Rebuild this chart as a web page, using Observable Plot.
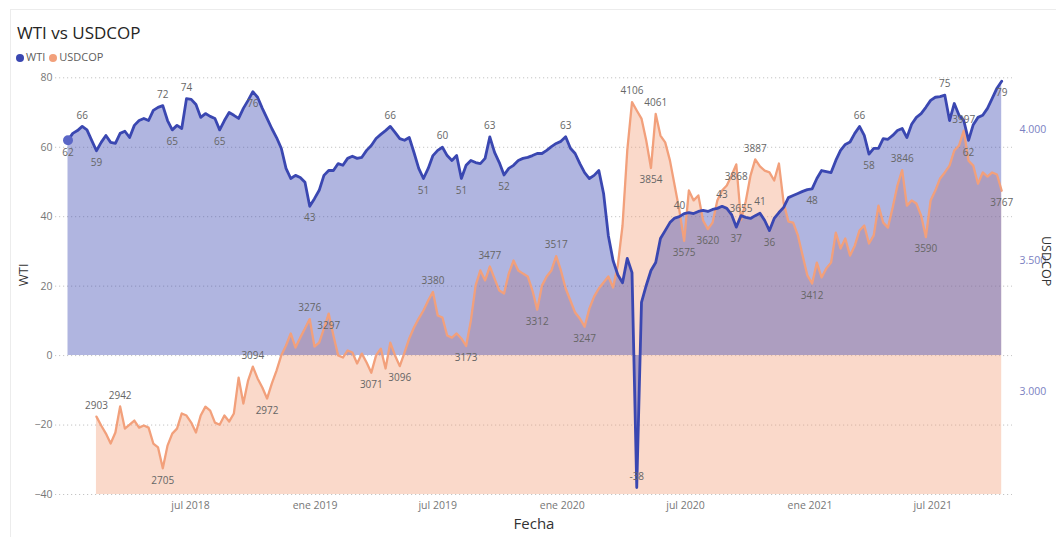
<!DOCTYPE html>
<html>
<head>
<meta charset="utf-8">
<script src="https://cdn.jsdelivr.net/npm/d3@7"></script>
<script src="https://cdn.jsdelivr.net/npm/@observablehq/plot@0.6"></script>
<style>
  body { margin: 0; width: 1056px; height: 537px; overflow: hidden; position: relative; background: #fff; font-family: "Open Sans", sans-serif; }
  .card { position: absolute; left: 10px; top: 9px; width: 1046px; height: 528px; border-top: 1px solid #ececec; border-left: 1px solid #ececec; box-sizing: border-box; pointer-events: none; }
  #title { height: 48px; box-sizing: border-box; padding: 22px 0 0 17px; font-size: 17px; line-height: 22px; color: #252423; }
  #legend { height: 18px; box-sizing: border-box; padding-left: 16px; font-size: 11px; line-height: 18px; color: #605e5c; }
  #legend .sw { display: inline-block; width: 8px; height: 8px; border-radius: 50%; margin-right: 2px; vertical-align: -0.5px; }
  #legend .item { margin-right: 4px; }
</style>
</head>
<body>
<div class="card"></div>
<div id="title">WTI vs USDCOP</div>
<div id="legend"></div>
<div id="chart"></div>
<script>
// Weekly closes, WTI in USD per barrel and USDCOP in pesos per dollar
const wtiStart = "2018-01-01";
const wtiValues = [
  62, 64.0, 64.8, 66, 65, 62, 59, 61.4, 63.4, 61.4,
  61.1, 64, 64.6, 62.8, 66.3, 67.7, 68.3, 67.7, 70.6, 71.5,
  72, 67.7, 65, 66.3, 65.4, 74, 73.8, 72.3, 68.6, 69.7,
  68.9, 68.3, 65, 67.7, 70, 69.2, 68.3, 71.2, 73.5, 76,
  74.4, 71.2, 68.3, 65.4, 62.8, 59.7, 53.9, 51, 51.9, 51.3,
  49.9, 43, 45.2, 47.6, 51.9, 53.3, 53.3, 55.3, 54.8, 56.8,
  57.4, 56.8, 57.1, 59.1, 60.5, 62.5, 63.7, 64.8, 66, 64.3,
  62.5, 62, 62.8, 58.5, 53.9, 51, 53.9, 57.6, 59.1, 60,
  57.6, 56.2, 57.6, 51, 54.8, 56.2, 55.6, 55.3, 56.8, 63,
  58.5, 55.6, 52, 53.9, 54.8, 56.2, 56.8, 57.1, 57.6, 58.2,
  58.2, 59.1, 60.2, 61.1, 61.7, 63, 59.7, 58.2, 55.3, 52.7,
  51, 51.9, 53.3, 46.7, 34.6, 27.4, 23.3, 21.0, 28, 23.9,
  -38, 15.3, 20.2, 24.5, 26.8, 33.7, 36, 38.3, 39.6, 40,
  40.9, 41.2, 40.9, 41.5, 41.8, 41.5, 42.1, 42.4, 43, 42.4,
  40.6, 37, 40.3, 39.8, 39.5, 40.3, 41, 38.9, 36, 39.5,
  41.2, 42.7, 45.5, 46.1, 46.7, 47.3, 47.8, 48, 51, 53.3,
  53, 52.7, 56.2, 59.1, 60.8, 61.5, 64, 66, 63.4, 58,
  59.7, 59.7, 62.5, 62.3, 63.4, 64.8, 65.4, 62.8, 66.6, 68.6,
  69.7, 71.5, 73.5, 74.4, 74.6, 75, 67.7, 72.6, 69.2, 67.7,
  62, 66.5, 68.6, 69.2, 71.2, 74.1, 77, 79
];

const copStart = "2018-02-12";
const copValues = [
  2903, 2869, 2838, 2800, 2842, 2942, 2857, 2872, 2888, 2861,
  2869, 2861, 2800, 2785, 2705, 2792, 2838, 2857, 2915, 2907,
  2880, 2842, 2907, 2941, 2926, 2880, 2872, 2907, 2884, 2915,
  3052, 2953, 3041, 3094, 3049, 3014, 2972, 3029, 3079, 3137,
  3175, 3221, 3167, 3205, 3240, 3276, 3171, 3186, 3240, 3297,
  3213, 3137, 3129, 3156, 3148, 3106, 3144, 3110, 3071, 3137,
  3163, 3087, 3186, 3137, 3096, 3148, 3202, 3244, 3278, 3309,
  3347, 3380, 3290, 3282, 3213, 3205, 3221, 3202, 3173, 3270,
  3404, 3462, 3424, 3477, 3431, 3385, 3374, 3450, 3500, 3462,
  3450, 3439, 3385, 3312, 3404, 3439, 3462, 3517, 3462, 3393,
  3347, 3301, 3278, 3247, 3316, 3362, 3393, 3416, 3439, 3397,
  3481, 3634, 3921, 4106, 4074, 4043, 3959, 3854, 4061, 3978,
  3952, 3883, 3787, 3691, 3575, 3768, 3730, 3749, 3653, 3620,
  3645, 3730, 3768, 3787, 3825, 3868, 3655, 3727, 3825, 3887,
  3860, 3844, 3837, 3806, 3871, 3720, 3649, 3645, 3596, 3519,
  3443, 3412, 3492, 3435, 3470, 3492, 3607, 3546, 3584, 3519,
  3557, 3615, 3634, 3565, 3596, 3710, 3645, 3626, 3703, 3787,
  3846, 3710, 3730, 3718, 3672, 3590, 3730, 3768, 3814, 3837,
  3863, 3921, 3940, 3997, 3882, 3863, 3794, 3837, 3821, 3837,
  3829, 3767
];

// Weeks (counted from each series' start) that carry a value label, and where it sits
const wtiLabelWeeks = [0, 3, 6, 20, 22, 25, 32, 39, 51, 68, 75, 79, 83, 89, 92, 105, 120, 129, 138, 141, 146, 148, 157, 167, 169, 185, 190, 197];
const wtiLabelSides = ["below", "above", "below", "above", "below", "above", "below", "below", "below", "above", "below", "above", "below", "above", "below", "above", "above", "above", "above", "below", "above", "below", "below", "above", "below", "above", "below", "below"];
const copLabelWeeks = [0, 5, 14, 33, 36, 45, 49, 58, 64, 71, 78, 83, 93, 97, 103, 113, 117, 118, 124, 129, 135, 136, 139, 151, 170, 175, 183, 191];
const copLabelSides = ["above", "above", "below", "above", "below", "above", "below", "below", "below", "above", "below", "above", "below", "above", "below", "above", "below", "above", "below", "below", "below", "above", "above", "below", "above", "below", "above", "below"];

const wtiTicks = [-40, -20, 0, 20, 40, 60, 80];
const copTicks = [3000, 3500, 4000];
const dateTicks = ["2018-07-01", "2019-01-01", "2019-07-01", "2020-01-01", "2020-07-01", "2021-01-01", "2021-07-01"];
const monthNames = ["ene", "feb", "mar", "abr", "may", "jun", "jul", "ago", "sep", "oct", "nov", "dic"];

const wtiColor = "#3a47b1";
const copColor = "#f2a07b";

// USDCOP is drawn on the WTI axis through this mapping; the right axis reads it back
const copToWti = d3.scaleLinear([2605, 4199], [-40, 80]);
const fmtCop = d3.formatLocale({decimal: ",", thousands: ".", grouping: [3], currency: ["$", ""]}).format(",d");

const weekly = (start, values) => values.map((v, i) => ({date: d3.utcDay.offset(new Date(start), 7 * i), value: v}));
const wti = weekly(wtiStart, wtiValues).map(d => ({...d, y: d.value}));
const cop = weekly(copStart, copValues).map(d => ({...d, y: copToWti(d.value)}));

const labelsOf = (series, weeks, sides) => weeks.map((k, j) => ({...series[k], side: sides[j]}));
const wtiLabels = labelsOf(wti, wtiLabelWeeks, wtiLabelSides);
const copLabels = labelsOf(cop, copLabelWeeks, copLabelSides);

const labelMarks = (labels) => [
  Plot.text(labels.filter(d => d.side === "above"), {x: "date", y: "y", text: d => String(d.value), dy: -11, fill: "#666", fontSize: 10}),
  Plot.text(labels.filter(d => d.side === "below"), {x: "date", y: "y", text: d => String(d.value), dy: 12, fill: "#666", fontSize: 10})
];

const chart = Plot.plot({
  width: 1056,
  height: 471,
  marginLeft: 55,
  marginRight: 44,
  marginTop: 11.3,
  marginBottom: 43,
  style: {fontFamily: "Open Sans, sans-serif", fontSize: "10.5px", overflow: "visible", background: "transparent"},
  x: {type: "utc", domain: [wti[0].date, wti[wti.length - 1].date], range: [67.5, 1001.2]},
  y: {domain: [-40, 80]},
  marks: [
    Plot.gridY(wtiTicks, {stroke: "#c4c4c4", strokeOpacity: 1, strokeDasharray: "1.2,2.8"}),
    Plot.areaY(cop, {x: "date", y1: -40, y2: "y", fill: copColor, fillOpacity: 0.4}),
    Plot.areaY(wti, {x: "date", y1: 0, y2: "y", fill: wtiColor, fillOpacity: 0.4}),
    Plot.lineY(cop, {x: "date", y: "y", stroke: copColor, strokeWidth: 2.3}),
    Plot.lineY(wti, {x: "date", y: "y", stroke: wtiColor, strokeWidth: 2.8}),
    Plot.dot([wti[0]], {x: "date", y: "y", r: 5, fill: "#5a66c6"}),
    ...labelMarks(copLabels),
    ...labelMarks(wtiLabels),
    Plot.axisY(wtiTicks, {anchor: "left", tickSize: 0, tickPadding: 3, color: "#777", label: null}),
    Plot.axisY(copTicks.map(copToWti), {anchor: "right", tickSize: 0, tickPadding: 7, color: "#7b81c2",
      tickFormat: d => fmtCop(Math.round(copToWti.invert(d))), label: null}),
    Plot.axisX(dateTicks.map(s => new Date(s)), {anchor: "bottom", tickSize: 0, tickPadding: 7, color: "#777",
      tickFormat: d => `${monthNames[d.getUTCMonth()]} ${d.getUTCFullYear()}`, label: null}),
    Plot.text(["Fecha"], {frameAnchor: "bottom", dy: 34, fontSize: 15, fill: "#333"}),
    Plot.text(["WTI"], {frameAnchor: "left", dx: -32, rotate: -90, fontSize: 13, fill: "#333"}),
    Plot.text(["USDCOP"], {frameAnchor: "right", dx: 33, rotate: 90, fontSize: 12.5, fill: "#333"})
  ]
});
document.getElementById("chart").append(chart);

// Legend
const legend = document.getElementById("legend");
[["WTI", wtiColor], ["USDCOP", copColor]].forEach(([name, color]) => {
  const item = document.createElement("span");
  item.className = "item";
  item.innerHTML = `<span class="sw" style="background:${color}"></span>${name}`;
  legend.append(item);
});
</script>
</body>
</html>
